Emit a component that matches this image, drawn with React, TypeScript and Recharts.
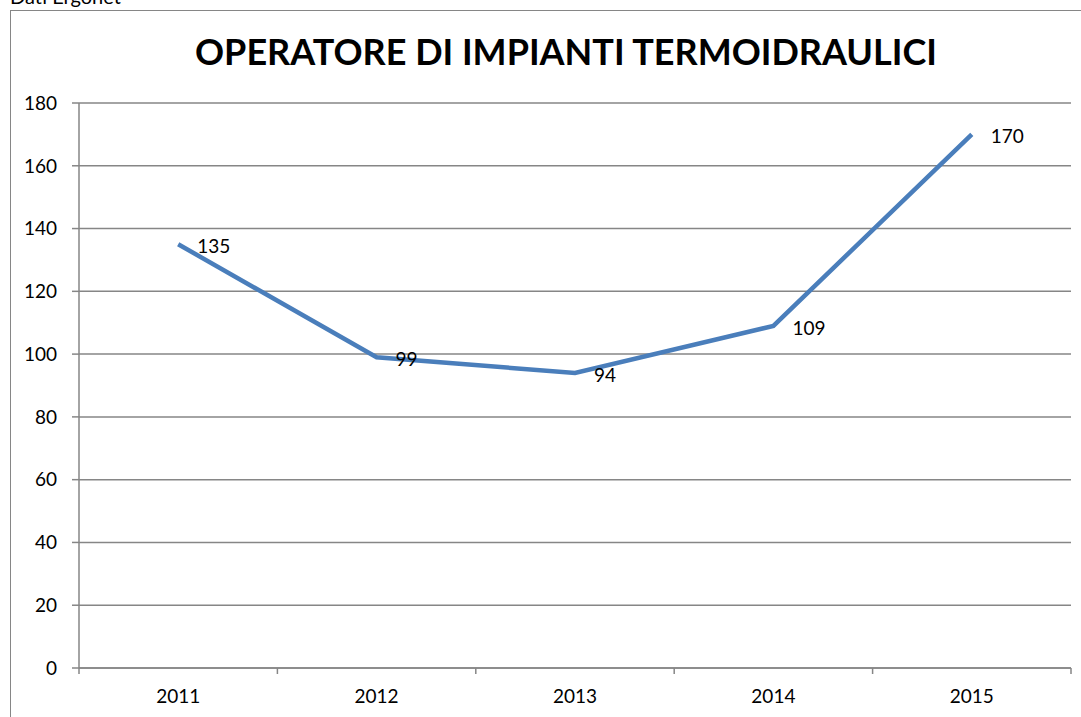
import React from "react";
import {
  LineChart,
  Line,
  XAxis,
  YAxis,
  CartesianGrid,
  LabelList,
} from "recharts";

const years = ["2011", "2012", "2013", "2014", "2015"];
const operatori = [135, 99, 94, 109, 170];
const yTicks = [0, 20, 40, 60, 80, 100, 120, 140, 160, 180];

const FONT = "Lato, 'Liberation Sans', sans-serif";
const GRAY = "#868686";

// points sit in the middle of each category, ticks on the boundaries (Excel style)
const data = years.map((year, i) => ({ x: i + 0.5, year, value: operatori[i] }));
const xTicks = years.flatMap((_, i) => (i === 0 ? [0, 0.5, 1] : [i + 0.5, i + 1]));

function XTick(props: any) {
  const { x, y, payload } = props;
  const v = payload.value as number;
  if (Number.isInteger(v)) {
    return <line x1={x} y1={y} x2={x} y2={y + 6} stroke={GRAY} strokeWidth={1.5} />;
  }
  return (
    <text x={x} y={y + 35} textAnchor="middle" fill="#000" fontSize={19} fontFamily={FONT}>
      {years[Math.floor(v)]}
    </text>
  );
}

function PointLabel(props: any) {
  const { x, y, value } = props;
  return (
    <text x={x + 19} y={y + 9} fill="#000" fontSize={19} fontFamily={FONT}>
      {value}
    </text>
  );
}

export default function App() {
  return (
    <div
      style={{
        position: "absolute",
        left: 0,
        top: 0,
        width: 1081,
        height: 717,
        overflow: "hidden",
        background: "#fff",
      }}
    >
      <div
        style={{
          position: "absolute",
          left: 10,
          top: 10,
          width: 1200,
          height: 900,
          border: `1.5px solid ${GRAY}`,
        }}
      />
      <LineChart
        width={1081}
        height={717}
        data={data}
        margin={{ top: 103, right: 10, left: 10, bottom: 9 }}
        style={{ position: "absolute", left: 0, top: 0 }}
      >
        <CartesianGrid vertical={false} stroke={GRAY} strokeWidth={1.5} />
        <XAxis
          dataKey="x"
          type="number"
          domain={[0, years.length]}
          ticks={xTicks}
          interval={0}
          tickSize={0}
          tickMargin={0}
          tickLine={false}
          height={40}
          axisLine={{ stroke: GRAY, strokeWidth: 1.5 }}
          tick={<XTick />}
        />
        <YAxis
          domain={[0, 180]}
          ticks={yTicks}
          interval={0}
          width={69}
          tickSize={7}
          tickMargin={15}
          axisLine={{ stroke: GRAY, strokeWidth: 1.5 }}
          tickLine={{ stroke: GRAY, strokeWidth: 1.5 }}
          tick={{ fill: "#000", fontSize: 19, fontFamily: FONT }}
        />
        <Line
          type="linear"
          dataKey="value"
          stroke="#4a7ebb"
          strokeWidth={4.5}
          dot={false}
          activeDot={false}
          isAnimationActive={false}
        >
          <LabelList dataKey="value" content={<PointLabel />} />
        </Line>
      </LineChart>
      <svg
        width={1081}
        height={717}
        style={{ position: "absolute", left: 0, top: 0, pointerEvents: "none" }}
      >
        <text x={10} y={4} fontSize={20} fontFamily={FONT} fill="#000">
          Dati Ergonet
        </text>
        <text
          x={566}
          y={65}
          textAnchor="middle"
          fontSize={36}
          fontWeight="bold"
          fontFamily={FONT}
          fill="#000"
        >
          OPERATORE DI IMPIANTI TERMOIDRAULICI
        </text>
      </svg>
    </div>
  );
}
